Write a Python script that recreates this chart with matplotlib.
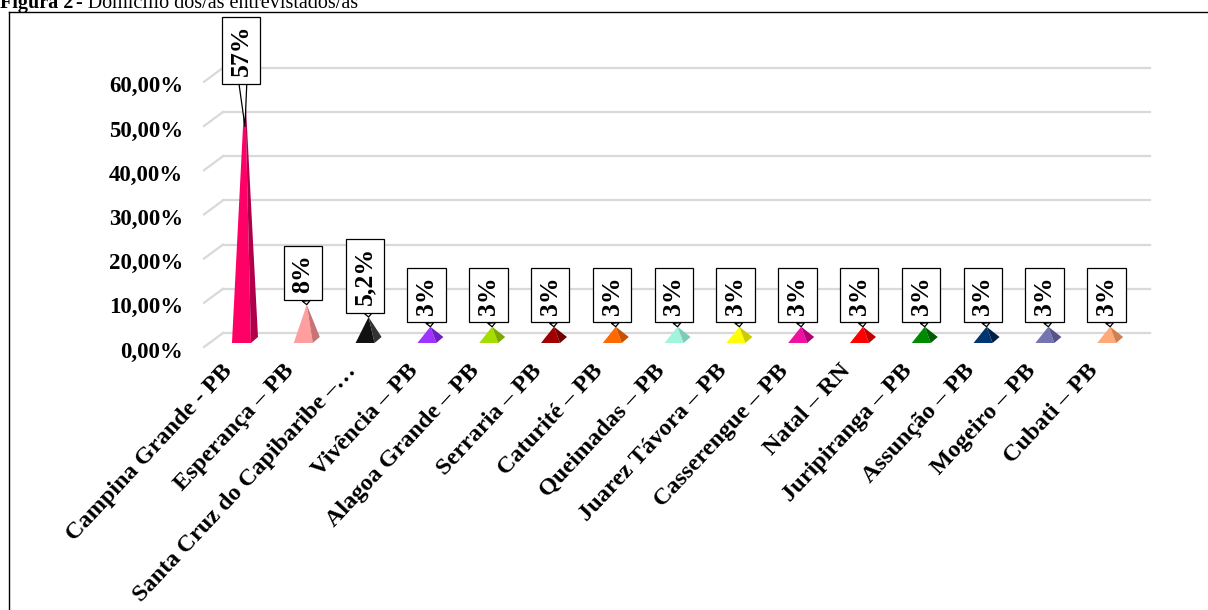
import matplotlib
matplotlib.use("Agg")
import matplotlib.pyplot as plt
from matplotlib.lines import Line2D

# data
cidades = ["Campina Grande - PB", "Esperança – PB", "Santa Cruz do Capibaribe –…",
           "Vivência – PB", "Alagoa Grande – PB", "Serraria – PB", "Caturité – PB",
           "Queimadas – PB", "Juarez Távora – PB", "Casserengue – PB", "Natal – RN",
           "Juripiranga – PB", "Assunção – PB", "Mogeiro – PB", "Cubati – PB"]
valores = [57, 8, 5.2, 3, 3, 3, 3, 3, 3, 3, 3, 3, 3, 3, 3]
rotulos = ["57%", "8%", "5,2%", "3%", "3%", "3%", "3%", "3%", "3%", "3%",
           "3%", "3%", "3%", "3%", "3%"]
cores = ["#FF0066", "#FF9E9E", "#111111", "#A033FF", "#A6DD00", "#A00000",
         "#FF6A00", "#A0F5DC", "#FFFF00", "#F010A0", "#FF0000", "#008A00",
         "#003670", "#7474B0", "#FFA878"]
cores_lado = ["#B0004C", "#C87474", "#333333", "#7020C0", "#7CA800", "#700000",
              "#C85000", "#7CCCB4", "#CCCC00", "#B00078", "#C00000", "#005C00",
              "#00224A", "#545488", "#D08050"]
yticks = [0, 10, 20, 30, 40, 50, 60]
yticklabels = ["0,00%", "10,00%", "20,00%", "30,00%", "40,00%", "50,00%", "60,00%"]

FONTE = "Liberation Serif"

fig = plt.figure(figsize=(12.08, 6.10), dpi=100)
ax = fig.add_axes([0, 0, 1, 1])
ax.set_xlim(-3.964, 15.583)
ax.set_ylim(-62.67, 75.34)
ax.axis("off")

# 3d offsets (data units)
prof_x, prof_y = 0.307, 3.17      # depth of the floor / side wall
hw, ddx, ddy = 0.154, 0.113, 1.36  # pyramid half width and depth
base_meio = -1.58

# grid: back wall + left side wall
cinza = "#D9D9D9"
for v in yticks:
    ax.plot([-0.356, 14.644], [v, v], color=cinza, lw=1.6, zorder=1)
    ax.plot([-0.356 - prof_x, -0.356], [v - prof_y, v], color=cinza, lw=1.6, zorder=1)
for v, t in zip(yticks, yticklabels):
    ax.text(-1.0, v - 4.3, t, ha="right", va="center", family=FONTE,
            fontweight="bold", fontsize=16.5)

# pyramids
for i, (v, c, cl) in enumerate(zip(valores, cores, cores_lado)):
    yf = base_meio - ddy / 2
    xl = i - hw - ddx / 2
    xr = i + hw - ddx / 2
    topo = (i, base_meio + v)
    ax.fill([xl, xr, topo[0]], [yf, yf, topo[1]], color=c, lw=0, zorder=3)
    ax.fill([xr, xr + ddx, topo[0]], [yf, yf + ddy, topo[1]], color=cl, lw=0, zorder=3)

# callouts
for i, (v, r) in enumerate(zip(valores, rotulos)):
    apice = base_meio + v
    ponta = min(apice, 0.82 * v)
    ax.annotate(r, xy=(i, ponta), xytext=(i - 0.06, apice + 2.7),
                rotation=90, ha="center", va="bottom", family=FONTE,
                fontweight="bold", fontsize=18.5, zorder=5,
                bbox=dict(boxstyle="square,pad=0.3", fc="white", ec="black", lw=0.9),
                arrowprops=dict(arrowstyle="wedge,tail_width=0.3,shrink_factor=0.5",
                                fc="white", ec="black", lw=0.9,
                                shrinkA=0, shrinkB=0))

# category labels
for i, nome in enumerate(cidades):
    ax.text(i - 0.38, -6.2, nome, rotation=47, rotation_mode="anchor",
            ha="right", va="top", family=FONTE, fontweight="bold", fontsize=17.5)

# frame and title (title is cut at the top edge, as in the source)
fig.add_artist(Line2D([8.5 / 1208, 1], [1 - 12 / 610] * 2, color="black", lw=1.0))
fig.add_artist(Line2D([8.5 / 1208] * 2, [0, 1 - 12 / 610], color="black", lw=1.0))
fig.text(0.0, 1 - 8 / 610, "Figura 2", ha="left", va="baseline", family=FONTE,
         fontweight="bold", fontsize=14.5)
fig.text(76 / 1208, 1 - 8 / 610, "- Domicílio dos/as entrevistados/as", ha="left",
         va="baseline", family=FONTE, fontsize=14.5)

fig.savefig("out.png", dpi=100)
plt.close(fig)
